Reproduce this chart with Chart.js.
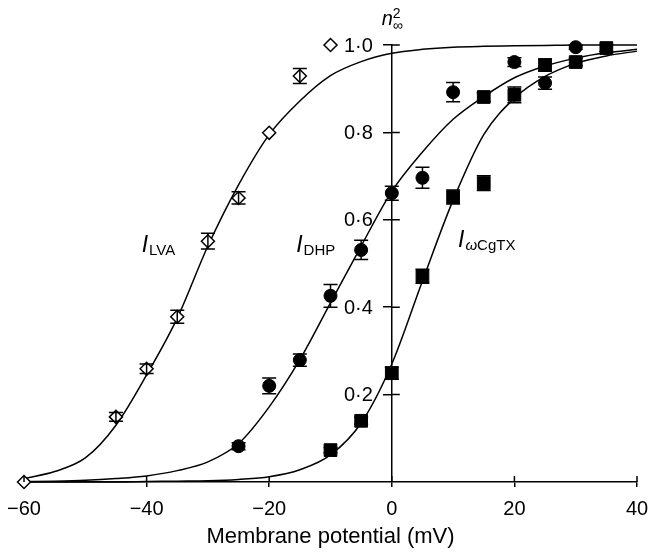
<!DOCTYPE html>
<html>
<head>
<meta charset="utf-8">
<script src="https://cdn.jsdelivr.net/npm/chart.js@4/dist/chart.umd.min.js"></script>
<style>
  html, body { margin: 0; padding: 0; background: #fff; }
  #wrap { width: 649px; height: 557px; }
</style>
</head>
<body>
<div id="wrap"><canvas id="c" width="649" height="557"></canvas></div>
<script>
// ---- axis ticks ----
const xTickValues = [-60, -40, -20, 0, 20, 40];
const xTickLabels = ['\u221260', '\u221240', '\u221220', '0', '20', '40'];
const yTickValues = [0.2, 0.4, 0.6, 0.8, 1.0];
const yTickLabels = ['0\u00b72', '0\u00b74', '0\u00b76', '0\u00b78', '1\u00b70'];

// ---- fitted curves (every 5 mV) ----
const fitVoltage = [-60, -55, -50, -45, -40, -35, -30, -25, -20, -15, -10, -5, 0, 5, 10, 15, 20, 25, 30, 35, 40];
const lvaFit  = [0.008, 0.024, 0.055, 0.13, 0.245, 0.375, 0.54, 0.68, 0.795, 0.872, 0.93, 0.962, 0.981, 0.99, 0.995, 0.997, 0.998, 0.999, 1.0, 1.0, 1.0];
const dhpFit  = [0.001, 0.002, 0.004, 0.008, 0.014, 0.026, 0.046, 0.088, 0.172, 0.28, 0.41, 0.54, 0.665, 0.755, 0.83, 0.882, 0.925, 0.952, 0.97, 0.982, 0.99];
const cgtxFit = [0, 0, 0, 0, 0.001, 0.002, 0.003, 0.006, 0.012, 0.028, 0.062, 0.135, 0.27, 0.46, 0.645, 0.795, 0.878, 0.928, 0.958, 0.975, 0.986];

// ---- measured points ----
const lvaV   = [-60, -45, -40, -35, -30, -25, -20, -15, -10];
const lvaN   = [0, 0.149, 0.259, 0.378, 0.551, 0.650, 0.799, 0.929, 1.0];
const lvaErr = [0, 0.010, 0.011, 0.015, 0.018, 0.014, 0, 0.017, 0];

const dhpV   = [-25, -20, -15, -10, -5, 0, 5, 10, 20, 25, 30];
const dhpN   = [0.082, 0.22, 0.279, 0.426, 0.531, 0.661, 0.696, 0.892, 0.961, 0.913, 0.995];
const dhpErr = [0.008, 0.018, 0.014, 0.026, 0.022, 0.016, 0.024, 0.022, 0.010, 0.014, 0.005];

const cgtxV   = [-10, -5, 0, 5, 10, 15, 15, 20, 25, 30, 35];
const cgtxN   = [0.073, 0.14, 0.249, 0.471, 0.652, 0.684, 0.881, 0.886, 0.954, 0.961, 0.993];
const cgtxErr = [0.006, 0.008, 0.014, 0.016, 0.016, 0.017, 0.010, 0.018, 0.014, 0.008, 0.008];

const FONT = "'Liberation Sans', Arial, Helvetica, sans-serif";
const pts = (xs, ys) => xs.map((x, i) => ({ x: x, y: ys[i] }));

function curve(data) {
  return {
    type: 'line', data: data, borderColor: '#000', borderWidth: 1.5,
    pointRadius: 0, fill: false, cubicInterpolationMode: 'monotone',
    clip: false, order: 2
  };
}

const overlay = {
  id: 'overlay',
  afterDatasetsDraw(chart) {
    const ctx = chart.ctx, ys = chart.scales.y;
    chart.data.datasets.forEach((ds, di) => {
      if (!ds.errors) return;
      const meta = chart.getDatasetMeta(di);
      ds.data.forEach((p, i) => {
        const e = ds.errors[i];
        if (!e) return;
        const px = meta.data[i].x;
        const y1 = ys.getPixelForValue(p.y + e), y2 = ys.getPixelForValue(p.y - e);
        ctx.save();
        ctx.strokeStyle = '#000'; ctx.lineWidth = 1.5;
        ctx.beginPath();
        ctx.moveTo(px, y1); ctx.lineTo(px, y2);
        ctx.moveTo(px - 7, y1); ctx.lineTo(px + 7, y1);
        ctx.moveTo(px - 7, y2); ctx.lineTo(px + 7, y2);
        ctx.stroke();
        ctx.restore();
      });
    });
  },
  afterDraw(chart) {
    const ctx = chart.ctx, xs = chart.scales.x, ys = chart.scales.y;
    const x0 = xs.getPixelForValue(0), y0 = ys.getPixelForValue(0);
    ctx.save();
    ctx.strokeStyle = '#000'; ctx.lineWidth = 1.5;
    ctx.beginPath();
    // inner halves of the crossing tick marks
    xTickValues.forEach(v => { const p = xs.getPixelForValue(v); ctx.moveTo(p, y0); ctx.lineTo(p, y0 - 6); });
    yTickValues.forEach(v => { const p = ys.getPixelForValue(v); ctx.moveTo(x0, p); ctx.lineTo(x0 + 8, p); });
    ctx.stroke();

    // y tick labels, left of the centred y axis
    ctx.fillStyle = '#000';
    ctx.font = '20px ' + FONT;
    ctx.textAlign = 'right';
    ctx.textBaseline = 'middle';
    yTickValues.forEach((v, i) => ctx.fillText(yTickLabels[i], x0 - 19, ys.getPixelForValue(v) + 1));

    // axis label n_inf^2 at the top of the y axis
    ctx.textBaseline = 'alphabetic';
    ctx.textAlign = 'right';
    ctx.font = 'italic 20px ' + FONT;
    ctx.fillText('n', x0 + 1, 25);
    ctx.textAlign = 'left';
    ctx.font = '14px ' + FONT;
    ctx.fillText('2', x0 + 1, 18);
    ctx.fillText('\u221e', x0 + 1, 30);

    // curve labels
    const labels = [
      { sub: [['LVA', '']], x: -40.8, y: 0.526 },
      { sub: [['DHP', '']], x: -15.6, y: 0.526 },
      { sub: [['\u03c9', 'italic '], ['CgTX', '']], x: 10.8, y: 0.538 }
    ];
    labels.forEach(l => {
      let px = xs.getPixelForValue(l.x);
      const py = ys.getPixelForValue(l.y);
      ctx.font = 'italic 23px ' + FONT;
      ctx.fillText('I', px, py);
      px += ctx.measureText('I').width + 1;
      l.sub.forEach(s => {
        ctx.font = s[1] + '15px ' + FONT;
        ctx.fillText(s[0], px, py + 3);
        px += ctx.measureText(s[0]).width;
      });
    });
    ctx.restore();
  }
};

new Chart(document.getElementById('c'), {
  type: 'scatter',
  data: {
    datasets: [
      { label: 'LVA', data: pts(lvaV, lvaN), errors: lvaErr, pointStyle: 'rectRot', pointRadius: 6.5,
        backgroundColor: '#fff', borderColor: '#000', borderWidth: 1.5, clip: false, order: 0 },
      { label: 'DHP', data: pts(dhpV, dhpN), errors: dhpErr, pointStyle: 'circle', pointRadius: 6.5,
        backgroundColor: '#000', borderColor: '#000', borderWidth: 1, clip: false, order: 0 },
      { label: 'wCgTX', data: pts(cgtxV, cgtxN), errors: cgtxErr, pointStyle: 'rect', pointRadius: 9,
        backgroundColor: '#000', borderColor: '#000', borderWidth: 1, clip: false, order: 0 },
      curve(pts(fitVoltage, lvaFit)),
      curve(pts(fitVoltage, dhpFit)),
      curve(pts(fitVoltage, cgtxFit))
    ]
  },
  options: {
    responsive: false,
    animation: false,
    events: [],
    layout: { padding: { left: 24, right: 12, top: 45, bottom: 0 } },
    plugins: { legend: { display: false }, tooltip: { enabled: false } },
    scales: {
      x: {
        type: 'linear', position: 'bottom', min: -60, max: 40,
        afterBuildTicks: s => { s.ticks = xTickValues.map(v => ({ value: v })); },
        afterFit: s => { s.paddingLeft = 0; s.paddingRight = 0; s.height = 75; },
        ticks: { callback: (v, i) => xTickLabels[i], color: '#000', font: { family: FONT, size: 20 },
                 padding: 10, maxRotation: 0, autoSkip: false },
        grid: { drawOnChartArea: false, drawTicks: true, tickLength: 5, color: '#000', lineWidth: 1.5 },
        border: { display: true, color: '#000', width: 1.5 },
        title: { display: true, text: 'Membrane potential (mV)', color: '#000',
                 font: { family: FONT, size: 22, lineHeight: 1.0 }, padding: { top: 5, bottom: 9 } }
      },
      y: {
        type: 'linear', position: { x: 0 }, min: 0, max: 1,
        afterBuildTicks: s => { s.ticks = yTickValues.map(v => ({ value: v })); },
        afterFit: s => { s.width = 0; },
        ticks: { display: false },
        grid: { drawOnChartArea: false, drawTicks: true, tickLength: 8, color: '#000', lineWidth: 1.5 },
        border: { display: true, color: '#000', width: 1.5 }
      }
    }
  },
  plugins: [overlay]
});
</script>
</body>
</html>
